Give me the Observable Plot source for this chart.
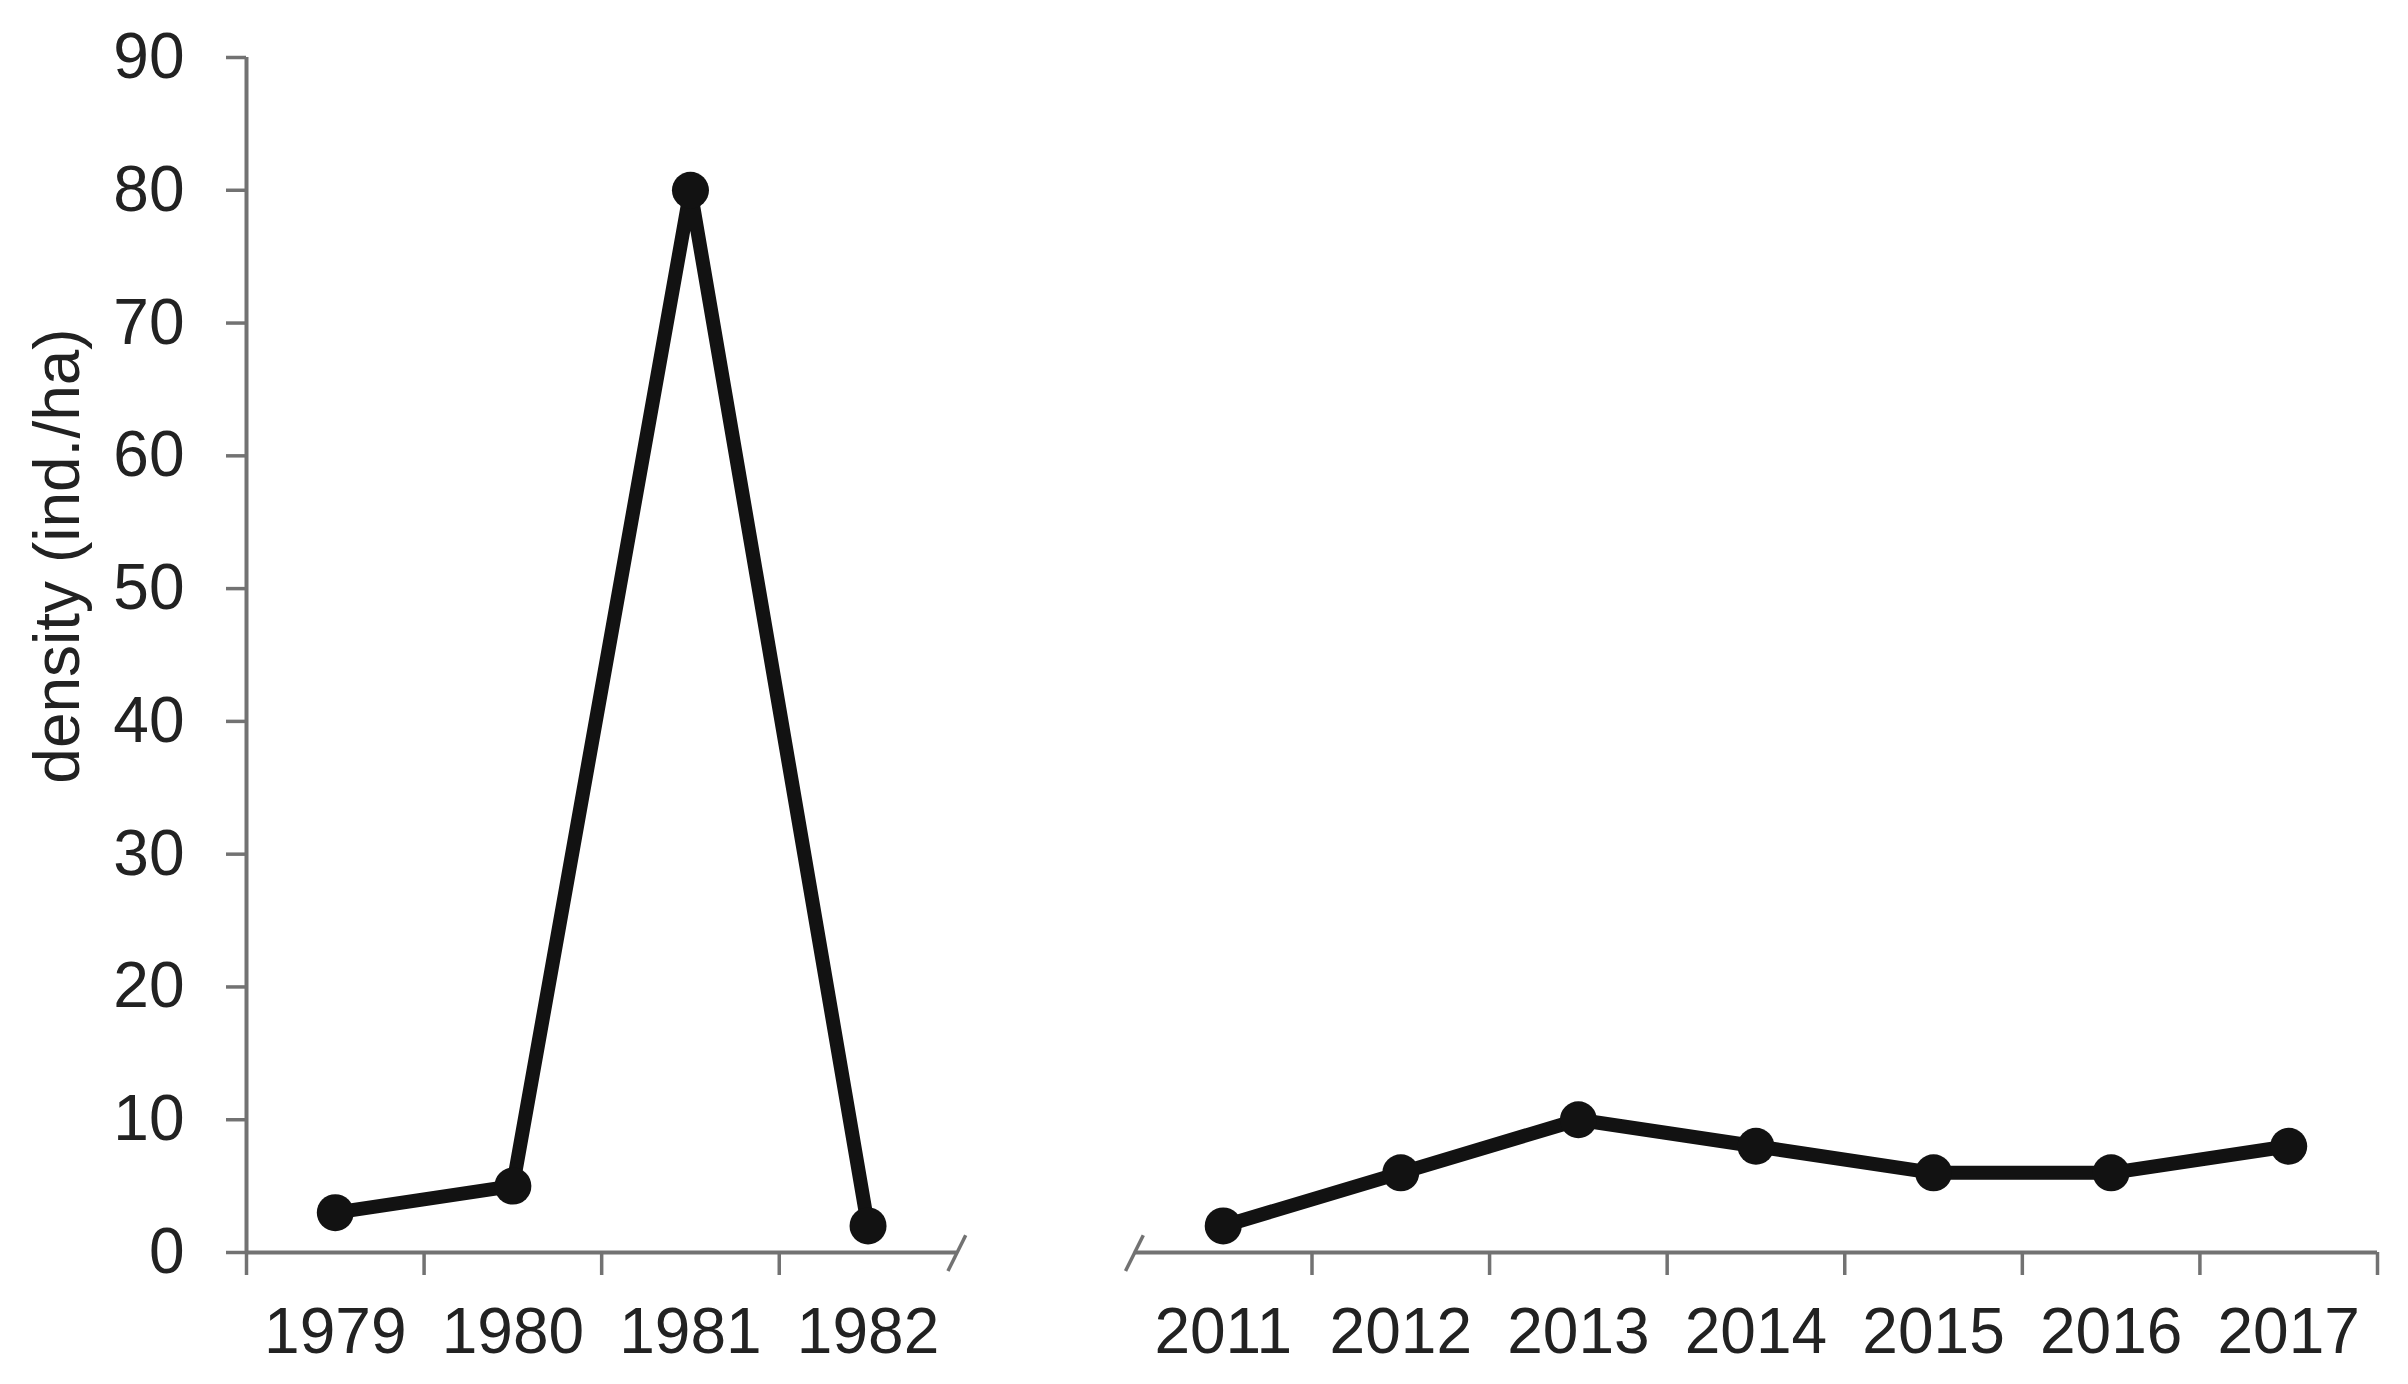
<!DOCTYPE html>
<html><head><meta charset="utf-8">
<script src="https://cdn.jsdelivr.net/npm/d3@7"></script>
<script src="https://cdn.jsdelivr.net/npm/@observablehq/plot@0.6"></script>
<style>html,body{margin:0;padding:0;background:#fff} svg{display:block}</style>
</head><body><div id="chart"></div>
<script>
// ---- data ----
const yearsEarly = ["1979", "1980", "1981", "1982"];
const densityEarly = [3, 5, 80, 2];
const yearsLate = ["2011", "2012", "2013", "2014", "2015", "2016", "2017"];
const densityLate = [2, 6, 10, 8, 6, 6, 8];
const yTicks = [0, 10, 20, 30, 40, 50, 60, 70, 80, 90];
const yLabel = "density (ind./ha)";

// ---- layout helpers (slots on a broken x axis) ----
const gap = 1;
const nE = yearsEarly.length, nL = yearsLate.length;
const total = nE + gap + nL;
const early = yearsEarly.map((year, i) => ({year, slot: i + 0.5, density: densityEarly[i]}));
const late = yearsLate.map((year, i) => ({year, slot: nE + gap + i + 0.5, density: densityLate[i]}));
const all = [...early, ...late];
const segments = [{x1: 0, x2: nE}, {x1: nE + gap, x2: total}];
const breaks = [nE, nE + gap];
const boundaryTicks = [...d3.range(0, nE), ...d3.range(nE + gap + 1, total + 1)];
const labelOf = new Map(all.map(d => [d.slot, d.year]));
const yMax = d3.max(yTicks);

const axisColor = "#727272";
const ink = "#121212";
const textColor = "#222";
const font = 64;

const chart = Plot.plot({
  width: 2408,
  height: 1384,
  marginLeft: 246,
  marginRight: 31,
  marginTop: 57,
  marginBottom: 132,
  style: {fontFamily: "'Liberation Sans', Arial, sans-serif", background: "#fff"},
  x: {type: "linear", domain: [0, total]},
  y: {domain: [0, yMax]},
  marks: [
    Plot.axisY({ticks: yTicks, tickSize: 20, tickPadding: 42, fontSize: font, label: null,
      stroke: axisColor, strokeWidth: 3.5, fill: textColor}),
    Plot.ruleX([0], {y1: 0, y2: yMax, stroke: axisColor, strokeWidth: 4}),
    Plot.axisX({ticks: boundaryTicks, tickSize: 23, tickFormat: () => "", label: null,
      stroke: axisColor, strokeWidth: 3.5}),
    Plot.axisX({ticks: all.map(d => d.slot), tickSize: 0, tickPadding: 55, fontSize: font,
      tickFormat: d => labelOf.get(d), label: null, fill: textColor}),
    Plot.ruleY(segments, {y: 0, x1: "x1", x2: "x2", stroke: axisColor, strokeWidth: 4}),
    Plot.link(breaks, {x1: d => d - 0.05, x2: d => d + 0.05, y1: -1.4, y2: 1.3,
      stroke: axisColor, strokeWidth: 3.5}),
    Plot.line(early, {x: "slot", y: "density", stroke: ink, strokeWidth: 14, strokeLinejoin: "round"}),
    Plot.line(late, {x: "slot", y: "density", stroke: ink, strokeWidth: 14, strokeLinejoin: "round"}),
    Plot.dot(all, {x: "slot", y: "density", r: 18.5, fill: ink, stroke: "none"}),
    Plot.text([yLabel], {text: d => d, frameAnchor: "left", textAnchor: "middle", rotate: -90,
      dx: -188, dy: -99, fontSize: font, fill: textColor})
  ]
});
document.getElementById("chart").appendChild(chart);
</script>
</body></html>
